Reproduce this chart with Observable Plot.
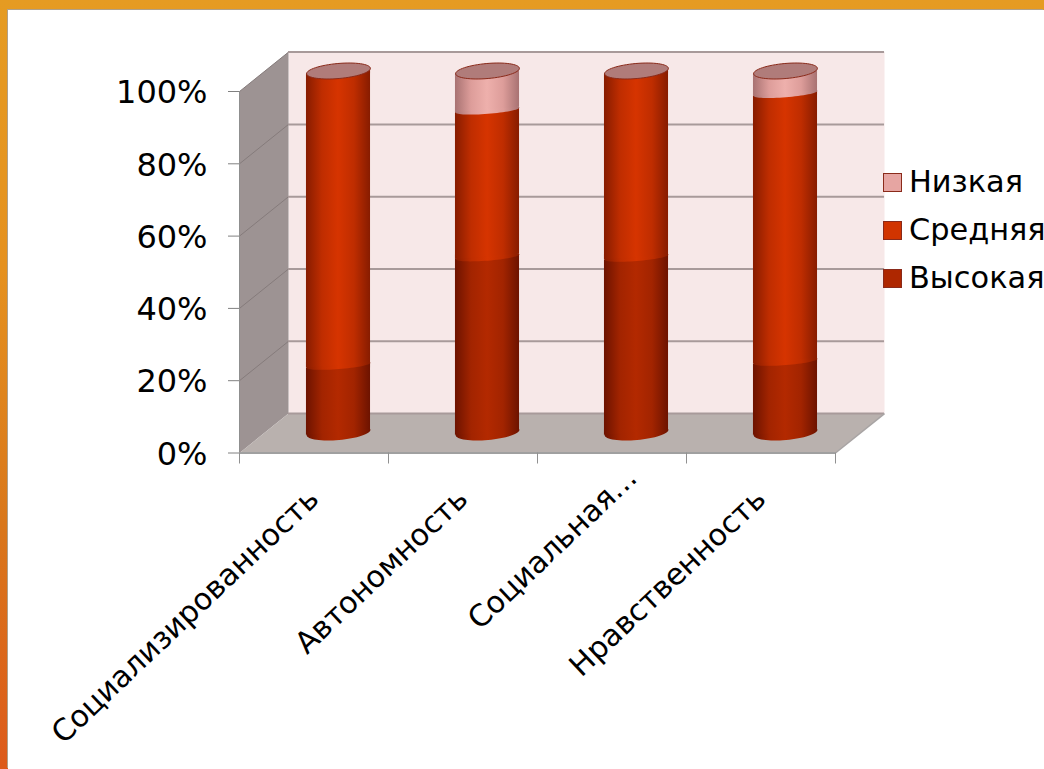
<!DOCTYPE html>
<html lang="ru">
<head>
<meta charset="utf-8">
<script src="https://cdn.jsdelivr.net/npm/d3@7"></script>
<script src="https://cdn.jsdelivr.net/npm/@observablehq/plot@0.6"></script>
<style>
  html, body { margin: 0; padding: 0; width: 1044px; height: 769px; overflow: hidden; }
  body { position: relative; background: linear-gradient(180deg, #e59b22 0%, #e5911f 35%, #d9771b 68%, #dd5a1a 100%); font-family: "DejaVu Sans", sans-serif; }
  #panel { position: absolute; left: 8px; top: 10px; right: 0; bottom: 0; background: #fff; box-shadow: -1px -1px 0 #b0a088; }
  #chart { position: absolute; left: 0; top: 0; }
  #chart svg { background: none; display: block; }
  #legend { position: absolute; left: 883px; top: 158px; font-size: 30.4px; line-height: 48px; color: #000; }
  #legend div { display: flex; align-items: center; white-space: nowrap; }
  #legend i { width: 17px; height: 17px; margin-right: 7px; border: 1px solid #8a2a1a; display: block; }
</style>
</head>
<body>
<div id="panel"></div>
<div id="chart"></div>
<div id="legend"></div>
<script>
const categories = ["Социализированность", "Автономность", "Социальная...", "Нравственность"];
const seriesNames = ["Высокая", "Средняя", "Низкая"];
const vysokaya = [18.6, 48.6, 48.5, 19.7];
const srednyaya = [81.4, 40.6, 51.5, 74.1];
const nizkaya = [0, 10.8, 0, 6.2];
const yTicks = [0, 20, 40, 60, 80, 100];
const xTicks = [0, 1, 2, 3, 4];
const legendColors = ["#ae2700", "#d13400", "#e6a5a2"];

// depth of the pseudo-3D box, in data units of the two scales
const depthX = 0.329, depthY = 10.9;
const halfBar = 0.215, slant = 0.75;
const offX = 24.5, offY = -20.5;

const gradients = {
  g0: ["#6d1300", "#a22400", "#b32900", "#a22400", "#6d1300"],
  g1: ["#871c00", "#bf2d00", "#d63400", "#bf2d00", "#871c00"],
  g2: ["#a87272", "#dd9d9a", "#eeb0ac", "#dd9d9a", "#a87272"]
};
function defsMark() {
  const ns = "http://www.w3.org/2000/svg";
  const defs = document.createElementNS(ns, "defs");
  for (const [id, stops] of Object.entries(gradients)) {
    const g = document.createElementNS(ns, "linearGradient");
    g.setAttribute("id", id);
    stops.forEach((c, i) => {
      const s = document.createElementNS(ns, "stop");
      s.setAttribute("offset", i / (stops.length - 1));
      s.setAttribute("stop-color", c);
      g.appendChild(s);
    });
    defs.appendChild(g);
  }
  return defs;
}

// tilted ellipse symbols for the cylinder ends
function ellipseSymbol(ratio, degrees) {
  return {
    draw(ctx, size) {
      const r = Math.sqrt(size / Math.PI), ry = r * ratio, t = -degrees * Math.PI / 180;
      for (let k = 0; k <= 64; k++) {
        const a = k / 64 * 2 * Math.PI, ex = r * Math.cos(a), ey = ry * Math.sin(a);
        const px = ex * Math.cos(t) - ey * Math.sin(t), py = ex * Math.sin(t) + ey * Math.cos(t);
        k ? ctx.lineTo(px, py) : ctx.moveTo(px, py);
      }
      ctx.closePath();
    }
  };
}
const endEllipse = ellipseSymbol(0.235, 5);
const seamEllipse = ellipseSymbol(0.12, 4.5);

const stacks = [vysokaya, srednyaya, nizkaya];
const segments = [];
categories.forEach((c, i) => {
  let base = 0;
  stacks.forEach((vals, s) => {
    const v = vals[i];
    if (v > 0) segments.push({ i, s, b: base, t: base + v });
    base += v;
  });
});
const tops = categories.map((c, i) => ({ i, t: vysokaya[i] + srednyaya[i] + nizkaya[i] }));

const cylMarks = [];
for (let s = 0; s < 3; s++) {
  const segs = segments.filter(d => d.s === s);
  const pts = segs.flatMap(d => [
    { k: d.i, x: d.i + 0.5 - halfBar, y1: d.b - slant, y2: d.t - slant },
    { k: d.i, x: d.i + 0.5 + halfBar, y1: d.b + slant, y2: d.t + slant }
  ]);
  cylMarks.push(
    Plot.dot(segs, { x: d => d.i + 0.5, y: "b", r: 32, symbol: s === 0 ? endEllipse : seamEllipse, fill: `url(#g${s})`, stroke: "none", dx: offX, dy: offY }),
    Plot.areaY(pts, { x: "x", y1: "y1", y2: "y2", z: "k", fill: `url(#g${s})`, stroke: "none", dx: offX, dy: offY })
  );
}

const sideWall = [[0, 0], [depthX, depthY], [depthX, 100 + depthY], [0, 100]];
const floor = [[0, 0], [4, 0], [4 + depthX, depthY], [depthX, depthY]];
const backWall = [[depthX, depthY], [4 + depthX, depthY], [4 + depthX, 100 + depthY], [depthX, 100 + depthY]];
const labelFont = { rotate: -43.5, textAnchor: "end", fontSize: 30, fill: "#000" };
const labelX = (d) => categories.indexOf(d) + 0.5;

const chart = Plot.plot({
  width: 1044,
  height: 769,
  marginLeft: 239,
  marginRight: 209,
  marginTop: 91,
  marginBottom: 316.5,
  style: { background: "none", fontFamily: "DejaVu Sans, sans-serif" },
  x: { domain: [0, 4], axis: null },
  y: { domain: [0, 100], axis: null },
  marks: [
    defsMark,
    Plot.line(backWall, { x: "0", y: "1", fill: "#f7e8e8", stroke: "none" }),
    Plot.line(sideWall, { x: "0", y: "1", fill: "#9d9393", stroke: "none" }),
    Plot.line(floor, { x: "0", y: "1", fill: "#b9b1ae", stroke: "none" }),
    Plot.link(yTicks.slice(1), { x1: 0, x2: depthX, y1: d => d, y2: d => d + depthY, stroke: "#857b7b", strokeWidth: 1 }),
    Plot.ruleY(yTicks, { x1: depthX, x2: 4 + depthX, y: d => d + depthY, stroke: "#a89a9a", strokeWidth: 2 }),
    Plot.link([0], { x1: 4, x2: 4 + depthX, y1: 0, y2: depthY, stroke: "#a8a4a4", strokeWidth: 1.5 }),
    Plot.ruleX([0], { y1: 0, y2: 100, stroke: "#8f8f8f", strokeWidth: 1 }),
    Plot.ruleY([0], { x1: 0, x2: 4, stroke: "#a0a0a0", strokeWidth: 2 }),
    Plot.axisY({ ticks: yTicks, tickSize: 11, tickFormat: () => "", stroke: "#808080", label: null }),
    Plot.axisY({ ticks: yTicks, tickSize: 0, tickPadding: 32, tickFormat: d => d + "%", fontSize: 32, fill: "#000", dy: 1.5, label: null }),
    Plot.axisX({ ticks: xTicks, tickSize: 11, tickFormat: () => "", stroke: "#909090", label: null }),
    Plot.text(categories.filter(d => !d.endsWith("...")), { x: labelX, y: 0, text: d => d, dx: 0, dy: 41, ...labelFont }),
    Plot.text(categories.filter(d => d.endsWith("...")), { x: labelX, y: 0, text: d => d, dx: 20, dy: 20, ...labelFont }),
    ...cylMarks,
    Plot.dot(tops, { x: d => d.i + 0.5, y: "t", r: 32, symbol: endEllipse, fill: "#b07c7a", stroke: "#8a2a1a", strokeWidth: 1, dx: offX, dy: offY })
  ]
});
document.getElementById("chart").appendChild(chart);

const legend = document.getElementById("legend");
[2, 1, 0].forEach(s => {
  const row = document.createElement("div");
  const sw = document.createElement("i");
  sw.style.background = legendColors[s];
  row.appendChild(sw);
  row.appendChild(document.createTextNode(seriesNames[s]));
  legend.appendChild(row);
});
</script>
</body>
</html>
